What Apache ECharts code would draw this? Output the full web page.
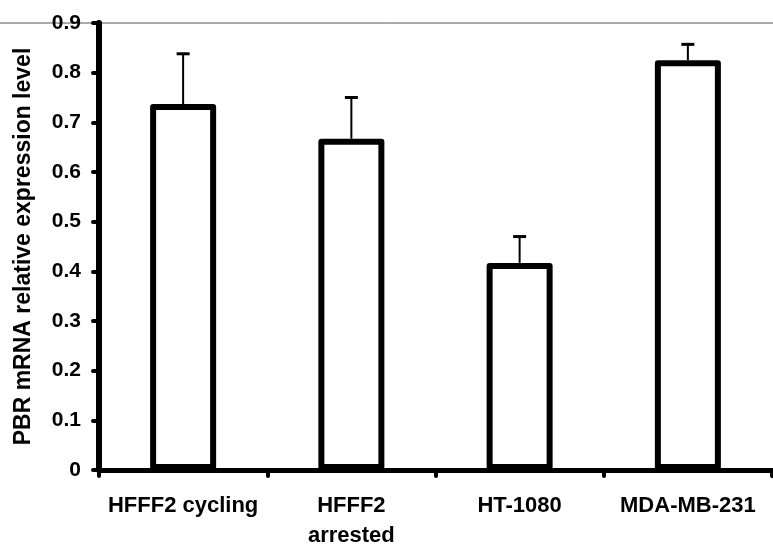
<!DOCTYPE html>
<html style="height: 100%">
<head>
    <meta charset="utf-8">
</head>
<body style="height: 100%; margin: 0; background: #fff">
<div id="container" style="width: 773px; height: 548px"></div>

<script type="text/javascript" src="https://cdn.jsdelivr.net/npm/echarts@6/dist/echarts.min.js"></script>

<script type="text/javascript">
    var categories = ['HFFF2 cycling', 'HFFF2\narrested', 'HT-1080', 'MDA-MB-231'];
    var expression = [0.737, 0.667, 0.417, 0.825];
    var errorTop = [0.838, 0.750, 0.470, 0.857];
    var yTicks = [0, 0.1, 0.2, 0.3, 0.4, 0.5, 0.6, 0.7, 0.8, 0.9];

    var dom = document.getElementById("container");
    var myChart = echarts.init(dom);
    var font = 'Liberation Sans';

    var errorData = expression.map(function (v, i) {
        return [i, v, errorTop[i]];
    });

    var option = {
        animation: false,
        backgroundColor: '#fff',
        grid: {
            left: 99,
            right: 1,
            top: 23,
            bottom: 78,
            outerBoundsMode: 'none',
            containLabel: false
        },
        graphic: [{
            type: 'line',
            shape: {x1: 0, y1: 23, x2: 773, y2: 23},
            style: {stroke: '#555', lineWidth: 1},
            z: -1
        }],
        xAxis: {
            type: 'category',
            data: categories,
            axisLine: {lineStyle: {color: '#000', width: 5}},
            axisTick: {
                show: true,
                alignWithLabel: false,
                length: 6,
                lineStyle: {color: '#000', width: 4, cap: 'round'}
            },
            axisLabel: {
                color: '#000',
                fontFamily: font,
                fontWeight: 'bold',
                fontSize: 22,
                lineHeight: 30,
                margin: 21,
                interval: 0
            }
        },
        yAxis: {
            type: 'value',
            min: 0,
            max: 0.9,
            interval: 0.1,
            name: 'PBR mRNA relative expression level',
            nameLocation: 'middle',
            nameGap: 64,
            nameTextStyle: {
                color: '#000',
                fontFamily: font,
                fontWeight: 'bold',
                fontSize: 23
            },
            axisLine: {show: true, lineStyle: {color: '#000', width: 6}},
            axisTick: {
                show: true,
                length: 6,
                lineStyle: {color: '#000', width: 4, cap: 'round'}
            },
            splitLine: {show: false},
            axisLabel: {
                color: '#000',
                fontFamily: font,
                fontWeight: 'bold',
                fontSize: 21,
                margin: 18,
                formatter: function (v) {
                    var t = yTicks.indexOf(Math.round(v * 10) / 10);
                    return t === 0 ? '0' : yTicks[t].toFixed(1);
                }
            }
        },
        series: [
            {
                type: 'bar',
                data: expression,
                barWidth: 66,
                itemStyle: {
                    color: '#fff',
                    borderColor: '#000',
                    borderWidth: 6,
                    borderJoin: 'round'
                },
                z: 2
            },
            {
                type: 'custom',
                data: errorData,
                z: 1,
                renderItem: function (params, api) {
                    var x = api.value(0);
                    var base = api.coord([x, api.value(1)]);
                    var top = api.coord([x, api.value(2)]);
                    var hw = 6.5;
                    return {
                        type: 'group',
                        children: [
                            {
                                type: 'line',
                                shape: {x1: base[0], y1: base[1], x2: top[0], y2: top[1]},
                                style: {stroke: '#000', lineWidth: 2}
                            },
                            {
                                type: 'line',
                                shape: {x1: top[0] - hw, y1: top[1], x2: top[0] + hw, y2: top[1]},
                                style: {stroke: '#000', lineWidth: 3}
                            }
                        ]
                    };
                }
            }
        ]
    };

    myChart.setOption(option);
</script>
</body>
</html>
